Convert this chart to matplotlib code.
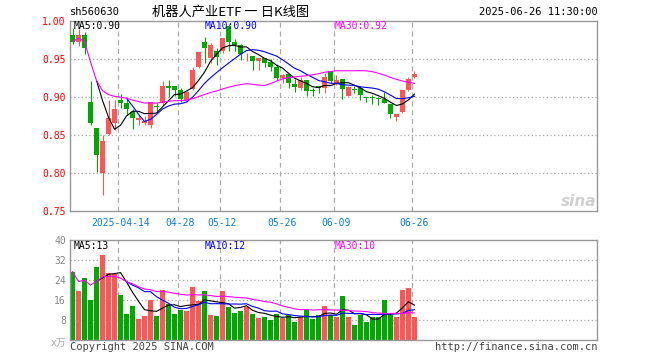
import matplotlib
matplotlib.use("Agg")
import matplotlib.pyplot as plt
import numpy as np
import pandas as pd

plt.rcParams['font.family'] = ['DejaVu Sans Mono', 'Noto Sans CJK SC']

# daily candles, 2025-04-01 .. 2025-06-26 (58 trading days)
opens = [0.982, 0.973, 0.981, 0.894, 0.860, 0.800, 0.851, 0.866, 0.896, 0.892,
         0.880, 0.870, 0.866, 0.863, 0.888, 0.892, 0.915, 0.914, 0.910, 0.895,
         0.911, 0.940, 0.972, 0.952, 0.960, 0.960, 0.993, 0.972, 0.969, 0.9534,
         0.954, 0.948, 0.952, 0.946, 0.940, 0.925, 0.930, 0.917, 0.912, 0.922,
         0.908, 0.915, 0.912, 0.934, 0.918, 0.924, 0.902, 0.910, 0.912, 0.900,
         0.900, 0.898, 0.898, 0.891, 0.874, 0.880, 0.910, 0.926]
highs = [0.991, 0.990, 0.986, 0.921, 0.860, 0.850, 0.896, 0.896, 0.904, 0.898,
         0.885, 0.877, 0.875, 0.894, 0.892, 0.921, 0.922, 0.914, 0.912, 0.908,
         0.939, 0.959, 0.979, 0.971, 0.964, 0.978, 0.996, 0.977, 0.970, 0.958,
         0.954, 0.952, 0.952, 0.950, 0.943, 0.930, 0.930, 0.924, 0.927, 0.922,
         0.912, 0.915, 0.932, 0.934, 0.929, 0.924, 0.914, 0.914, 0.914, 0.900,
         0.903, 0.900, 0.907, 0.891, 0.878, 0.910, 0.926, 0.934]
lows = [0.970, 0.967, 0.957, 0.864, 0.801, 0.771, 0.850, 0.857, 0.886, 0.877,
        0.858, 0.864, 0.863, 0.860, 0.881, 0.890, 0.900, 0.902, 0.894, 0.894,
        0.910, 0.938, 0.945, 0.945, 0.942, 0.958, 0.961, 0.961, 0.949, 0.947,
        0.935, 0.936, 0.939, 0.934, 0.923, 0.919, 0.912, 0.907, 0.910, 0.902,
        0.901, 0.905, 0.905, 0.918, 0.916, 0.897, 0.901, 0.905, 0.896, 0.893,
        0.891, 0.889, 0.892, 0.872, 0.868, 0.879, 0.908, 0.925]
closes = [0.973, 0.982, 0.964, 0.866, 0.824, 0.842, 0.872, 0.885, 0.892, 0.885,
          0.873, 0.872, 0.869, 0.894, 0.887, 0.914, 0.912, 0.910, 0.897, 0.907,
          0.936, 0.959, 0.965, 0.968, 0.953, 0.978, 0.973, 0.969, 0.956, 0.954,
          0.948, 0.952, 0.945, 0.940, 0.925, 0.929, 0.918, 0.913, 0.922, 0.908,
          0.9075, 0.912, 0.927, 0.921, 0.923, 0.911, 0.913, 0.9095, 0.903, 0.8995,
          0.8995, 0.8975, 0.892, 0.878, 0.878, 0.910, 0.924, 0.930]
# volume, x 10k
volumes = [27.3, 19.3, 24.9, 16.0, 29.3, 34.1, 26.7, 26.4, 18.0, 10.4,
           13.6, 8.4, 9.6, 15.7, 9.3, 20.0, 14.4, 10.4, 12.0, 11.6,
           21.2, 15.3, 19.6, 10.0, 9.6, 19.6, 13.1, 10.8, 11.3, 13.1,
           10.4, 8.7, 9.1, 7.7, 10.4, 8.7, 10.0, 6.9, 9.1, 11.7,
           8.3, 10.0, 13.3, 10.0, 9.1, 17.6, 9.1, 6.0, 10.0, 6.9,
           9.1, 9.1, 15.7, 10.0, 9.1, 20.0, 20.9, 9.1]

date_labels = ["2025-04-14", "04-28", "05-12", "05-26", "06-09", "06-26"]
date_pos = [8, 18, 25, 35, 44, 57]

price_ticks = [0.75, 0.80, 0.85, 0.90, 0.95, 1.00]
vol_ticks = [8, 16, 24, 32, 40]

price_ma_text = ["MA5:0.90", "MA10:0.90", "MA30:0.92"]
vol_ma_text = ["MA5:13", "MA10:12", "MA30:10"]

RED = '#ff5555'
GREEN = '#00a800'
GRID = '#aaaaaa'
FRAME = '#999999'
MA_COLORS = ['black', '#0000ff', '#ff00ff']

W, H = 660, 360


def px(x, y):
    # pixel position -> figure fraction
    return x / W, 1 - y / H


def moving_averages(values):
    s = pd.Series(values)
    return [s.rolling(5).mean(), s.rolling(10).mean(),
            s.rolling(30, min_periods=1).mean()]


def style_frame(a):
    for sp in a.spines.values():
        sp.set_color(FRAME)
        sp.set_linewidth(1.0)
    a.set_xlim(-0.417, 87.417)
    for p in date_pos:
        a.axvline(p - 0.4, color=GRID, lw=0.9, ls=(0, (4, 3)), zorder=0)


fig = plt.figure(figsize=(6.6, 3.6), dpi=100)

# price panel
ax = fig.add_axes([70 / W, (H - 211.3) / H, 527 / W, 190.3 / H])
style_frame(ax)
ax.set_ylim(0.75, 1.00)
for t in price_ticks[1:-1]:
    ax.axhline(t, color=GRID, lw=0.9, ls=(0, (1, 2)), zorder=0)

x = np.arange(len(closes))
o = np.array(opens)
c = np.array(closes)
cols = [RED if cc >= oo else GREEN for oo, cc in zip(o, c)]
ax.vlines(x, lows, highs, colors=cols, lw=0.8, zorder=2)
bottoms = np.minimum(o, c)
heights = np.maximum(np.abs(c - o), 0.0012)
ax.bar(x, heights, bottom=bottoms, width=0.8, color=cols, lw=0, zorder=3)

for ma, col in zip(moving_averages(closes), MA_COLORS):
    ax.plot(x, ma, color=col, lw=0.8, zorder=4)

ax.set_yticks(price_ticks)
ax.set_yticklabels(["%.2f" % t for t in price_ticks], color='red')
ax.set_xticks(date_pos)
ax.set_xticklabels(date_labels, color='#0a80c8')
ax.tick_params(axis='both', length=0, labelsize=7)
ax.tick_params(axis='x', pad=5)
ax.tick_params(axis='y', pad=3)

for txt, xp, col in zip(price_ma_text, [74, 205, 335], MA_COLORS):
    fig.text(*px(xp, 26), txt, color=col, fontsize=7, va='center', ha='left')

# watermark
fig.text(*px(596, 202), "sina", color='#d0d0d0', fontsize=11,
         style='italic', weight='bold', ha='right', va='center',
         family='DejaVu Sans')

# volume panel
vax = fig.add_axes([70 / W, (H - 339.5) / H, 527 / W, 99.5 / H])
style_frame(vax)
vax.set_ylim(0, 40)
for t in vol_ticks[:-1]:
    vax.axhline(t, color=GRID, lw=0.9, ls=(0, (1, 2)), zorder=0)
vax.bar(x, volumes, width=0.8, color=cols, lw=0, zorder=2)
for ma, col in zip(moving_averages(volumes), MA_COLORS):
    vax.plot(x, ma, color=col, lw=0.8, zorder=4)
vax.set_yticks(vol_ticks)
vax.set_yticklabels([str(t) for t in vol_ticks], color='#888888')
vax.set_xticks([])
vax.tick_params(axis='y', length=0, labelsize=7, pad=3)

for txt, xp, col in zip(vol_ma_text, [74, 205, 335], MA_COLORS):
    fig.text(*px(xp, 246), txt, color=col, fontsize=7, va='center', ha='left')

fig.text(*px(66, 343), "x万", color='#aaaaaa', fontsize=7, ha='right', va='center')

# header and footer
fig.text(*px(70, 12), "sh560630", fontsize=7.5, va='center', ha='left')
fig.text(*px(231, 12), "机器人产业ETF 一 日K线图", fontsize=9.5, va='center',
         ha='center', family=['Noto Sans CJK SC'])
fig.text(*px(598, 12), "2025-06-26 11:30:00", fontsize=7.5, va='center', ha='right')
fig.text(*px(70, 347), "Copyright 2025 SINA.COM", fontsize=7.5, color='#444444',
         va='center', ha='left')
fig.text(*px(598, 347), "http://finance.sina.com.cn", fontsize=7.5, color='#444444',
         va='center', ha='right')

fig.savefig("out.png", dpi=100)
